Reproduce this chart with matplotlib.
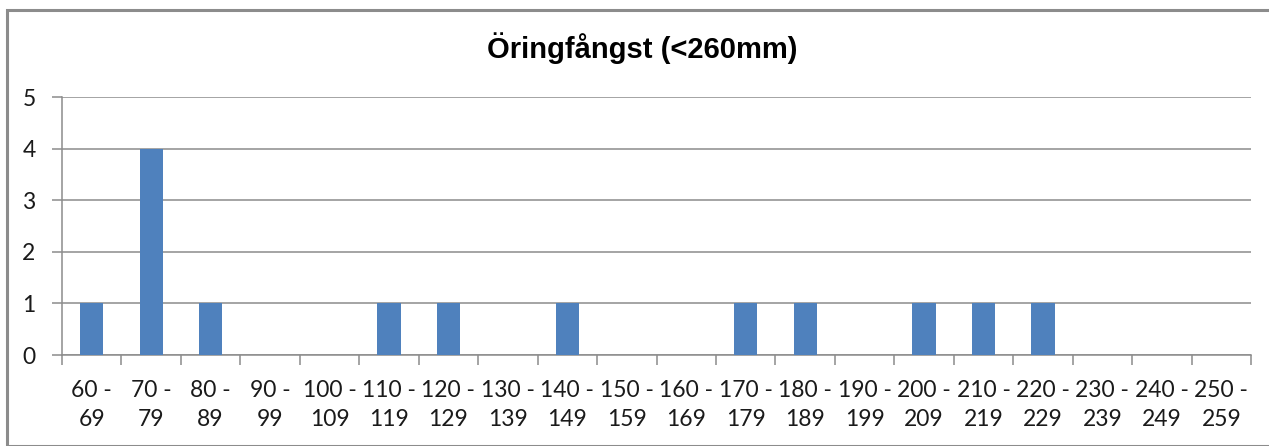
import matplotlib
matplotlib.use("Agg")
import matplotlib.pyplot as plt
from matplotlib.patches import Rectangle
import numpy as np

categories = ["60 -\n69", "70 -\n79", "80 -\n89", "90 -\n99", "100 -\n109", "110 -\n119",
              "120 -\n129", "130 -\n139", "140 -\n149", "150 -\n159", "160 -\n169", "170 -\n179",
              "180 -\n189", "190 -\n199", "200 -\n209", "210 -\n219", "220 -\n229", "230 -\n239",
              "240 -\n249", "250 -\n259"]
values = [1, 4, 1, 0, 0, 1, 1, 0, 1, 0, 0, 1, 1, 0, 1, 1, 1, 0, 0, 0]
yticks = [0, 1, 2, 3, 4, 5]
title = "Öringfångst (<260mm)"

W, H = 1269, 446
fig = plt.figure(figsize=(W / 100, H / 100), dpi=100)
fig.patch.set_facecolor("white")

# outer chart border
fig.patches.append(Rectangle((7 / W, 0), 2, (H - 10) / H, transform=fig.transFigure,
                             fill=False, edgecolor="#8c8c8c", linewidth=2.2))

ax = fig.add_axes([62 / W, (H - 355) / H, (1251 - 62) / W, (355 - 97) / H])
x = np.arange(len(categories))
ax.bar(x, values, width=0.39, color="#4f81bd", zorder=3)
ax.set_xlim(-0.5, len(categories) - 0.5)
ax.set_ylim(0, 5)
ax.set_yticks(yticks)
ax.yaxis.grid(True, color="#8c8c8c", linewidth=1.1, zorder=0)
ax.set_axisbelow(True)
for s in ["top", "right"]:
    ax.spines[s].set_visible(False)
for s in ["left", "bottom"]:
    ax.spines[s].set_color("#8c8c8c")
    ax.spines[s].set_linewidth(1.1)

ax.set_xticks(x)
ax.set_xticklabels(categories, fontsize=16.5, family=["Lato", "DejaVu Sans"],
                   linespacing=1.45, color="#1a1a1a")
ax.tick_params(axis="x", which="major", length=0, pad=18)
ax.set_xticks(np.arange(-0.5, len(categories), 1.0), minor=True)
ax.tick_params(axis="x", which="minor", length=7, color="#8c8c8c", width=1.1)
ax.tick_params(axis="y", length=7, color="#8c8c8c", width=1.1, pad=12,
               labelsize=16.5, labelcolor="#1a1a1a")
for lab in ax.get_yticklabels():
    lab.set_family(["Lato", "DejaVu Sans"])

fig.text(642 / W, (H - 48) / H, title, ha="center", va="center",
         fontsize=21, fontweight="bold", family=["Liberation Sans", "DejaVu Sans"])

fig.savefig("out.png", dpi=100, facecolor="white")
